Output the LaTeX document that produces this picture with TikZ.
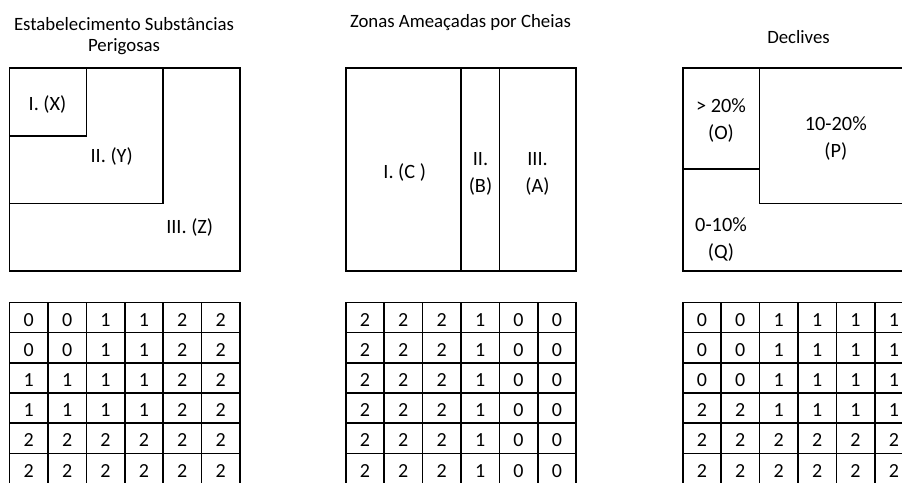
\documentclass[tikz,border=0pt]{standalone}
\usepackage{fontspec}
\setmainfont{Carlito}

\begin{document}
\begin{tikzpicture}[
      x=1pt, y=-1pt,
      /tikz/font=\fontsize{20}{27}\selectfont,
      frame/.style={line width=1.6pt},
      zonelbl/.style={align=center, inner sep=0pt, anchor=base,
        font=\fontsize{20.3}{27}\selectfont},
      titlelbl/.style={align=center, inner sep=0pt, anchor=base,
        font=\fontsize{18.8}{21.5}\selectfont},
      cell/.style={draw, line width=1.6pt, minimum width=38.4pt,
        minimum height=30.2pt, inner sep=0pt,
        text height=23.7pt, text depth=6.5pt},
    ]
    \clip (0,0) rectangle (902,482);

    % titles
    \node[titlelbl] (tsub) at (124,51.7) {Estabelecimento Substâncias\\Perigosas};
    \node[titlelbl] (tche) at (460.5,27.5) {Zonas Ameaçadas por Cheias};
    \node[titlelbl] (tdec) at (798.5,43) {Declives};

    % substancias perigosas
    \draw[frame] (9.5,67.7) rectangle (240,270.7);
    \draw[frame] (9.5,135.7) -| (86.3,67.7);
    \draw[frame] (9.5,203.3) -| (163.1,67.7);
    \node[zonelbl] (zx) at (47.5,110) {I. (X)};
    \node[zonelbl] (zy) at (111.7,162.5) {II. (Y)};
    \node[zonelbl] (zz) at (189.7,233) {III. (Z)};

    % cheias
    \draw[frame] (345.7,67.7) rectangle (576.2,270.7);
    \draw[frame] (460.9,67.7) -- (460.9,270.7);
    \draw[frame] (499.3,67.7) -- (499.3,270.7);
    \node[zonelbl] (zc) at (404.7,178) {I. (C )};
    \node[zonelbl] (zb) at (480.5,192) {II.\\(B)};
    \node[zonelbl] (za) at (537.5,192) {III.\\(A)};

    % declives
    \draw[frame] (682.7,67.7) rectangle (913.2,270.7);
    \draw[frame] (682.7,169.2) -- (759.5,169.2);
    \draw[frame] (759.5,67.7) |- (913.2,203.3);
    \node[zonelbl] (zo) at (721,139.5) {> 20\%\\(O)};
    \node[zonelbl] (zp) at (835.8,157) {10-20\%\\(P)};
    \node[zonelbl] (zq) at (721,258.5) {0-10\%\\(Q)};

    % grids
    \foreach \row [count=\r] in {{0,0,1,1,2,2},{0,0,1,1,2,2},{1,1,1,1,2,2},
        {1,1,1,1,2,2},{2,2,2,2,2,2},{2,2,2,2,2,2}}
      \foreach \v [count=\c] in \row
        \node[cell] (sp-\r-\c) at ({9.5+38.4*(\c-0.5)},{302.3+30.2*(\r-0.5)}) {\v};
    \foreach \r in {1,...,6}
      \foreach \v [count=\c] in {2,2,2,1,0,0}
        \node[cell] (ch-\r-\c) at ({345.7+38.4*(\c-0.5)},{302.3+30.2*(\r-0.5)}) {\v};
    \foreach \row [count=\r] in {{0,0,1,1,1,1},{0,0,1,1,1,1},{0,0,1,1,1,1},
        {2,2,1,1,1,1},{2,2,2,2,2,2},{2,2,2,2,2,2}}
      \foreach \v [count=\c] in \row
        \node[cell] (dc-\r-\c) at ({682.7+38.4*(\c-0.5)},{302.3+30.2*(\r-0.5)}) {\v};
  \end{tikzpicture}
\end{document}
